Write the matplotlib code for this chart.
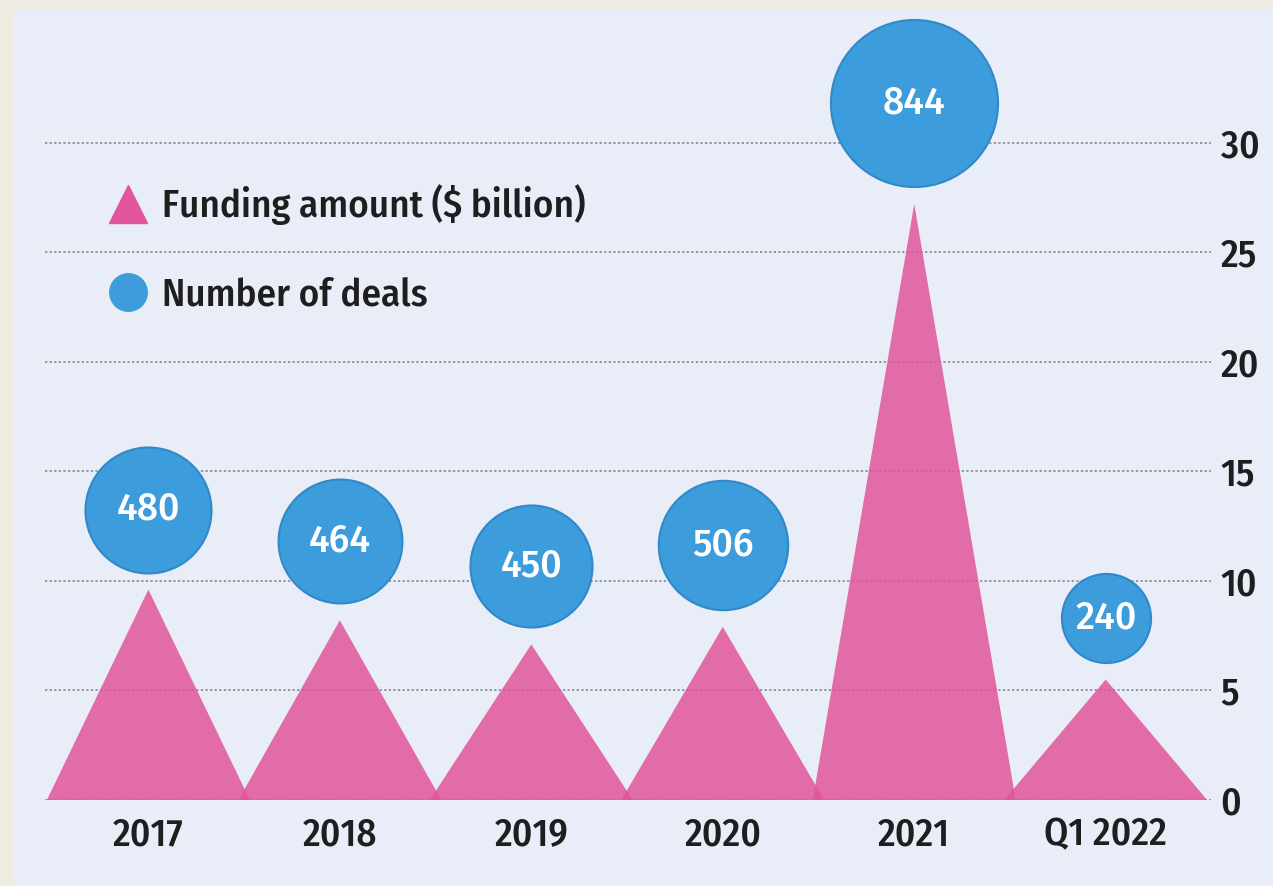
import numpy as np
import matplotlib
matplotlib.use("Agg")
import matplotlib.pyplot as plt
from matplotlib.lines import Line2D
from matplotlib.patches import Rectangle

periods = ["2017", "2018", "2019", "2020", "2021", "Q1 2022"]
funding = [9.6, 8.2, 7.1, 7.9, 27.2, 5.5]
deals = [480, 464, 450, 506, 844, 240]
y_ticks = [0, 5, 10, 15, 20, 25, 30]

BG = "#e9edf7"
PINK = "#e0559b"
BLUE = "#3d9cdb"
NARROW = ["Fira Sans Condensed", "Roboto Condensed", "DejaVu Sans"]
BUBBLE_FONT = ["Fira Sans", "Roboto", "DejaVu Sans"]

fig = plt.figure(figsize=(12.73, 8.86), dpi=100)
fig.patch.set_facecolor(BG)
# beige frame strips on left and top
fig.patches.append(Rectangle((0, 0), 12 / 1273, 1, transform=fig.transFigure,
                             color="#eeebe3", zorder=0))
fig.patches.append(Rectangle((0, 1 - 8 / 886), 1, 8 / 886, transform=fig.transFigure,
                             color="#eeebe3", zorder=0))

ax = fig.add_axes([45 / 1273, 86 / 886, 1166 / 1273, 745 / 886])
ax.set_facecolor(BG)
ax.set_xlim(-0.54, 5.55)
ax.set_ylim(0, 34)

x = np.arange(len(periods))
half_w = 0.53

for xi, v in zip(x, funding):
    ax.fill([xi - half_w, xi, xi + half_w], [0, v, 0], color=PINK, alpha=0.85,
            lw=0, zorder=2)

# bubbles sit just above each triangle peak
px_per_unit = fig.dpi * 8.86 * (745 / 886) / 34
k = 17.15
sizes = [d * k for d in deals]
gap_px = 17
for xi, v, s, d in zip(x, funding, sizes, deals):
    r_px = np.sqrt(s) / 2 * fig.dpi / 72
    cy = v + (gap_px + r_px) / px_per_unit
    ax.scatter([xi], [cy], s=s, color=BLUE, edgecolor="#3189c7", linewidth=1.5,
               zorder=3, clip_on=False)
    ax.text(xi, cy, str(d), color="white", fontsize=27, family=BUBBLE_FONT,
            weight=500, ha="center", va="center", zorder=4)

ax.set_yticks(y_ticks)
ax.yaxis.tick_right()
ax.grid(axis="y", linestyle=(0, (1.5, 1.5)), color="#808080", linewidth=1.1)
ax.set_axisbelow(True)
ax.set_xticks(x)
ax.set_xticklabels(periods)
ax.tick_params(axis="both", length=0, labelsize=28, labelcolor="#1e1e1e")
ax.tick_params(axis="y", pad=7)
ax.tick_params(axis="x", pad=12)
for lab in ax.get_xticklabels() + ax.get_yticklabels():
    lab.set_family(NARROW)
    lab.set_weight(500)
for sp in ax.spines.values():
    sp.set_visible(False)

handles = [
    Line2D([], [], marker="^", color=PINK, markersize=27, linestyle="none"),
    Line2D([], [], marker="o", color=BLUE, markersize=27, linestyle="none"),
]
leg = ax.legend(handles, ["Funding amount ($ billion)", "Number of deals"],
                loc="upper left", bbox_to_anchor=(0.051, 0.826), frameon=False,
                prop={"family": NARROW, "size": 28, "weight": 500},
                handletextpad=0.28, labelspacing=1.32, handlelength=1.2,
                borderpad=0, borderaxespad=0)
for t in leg.get_texts():
    t.set_color("#1e1e1e")

fig.savefig("out.png", dpi=100, facecolor=BG)
